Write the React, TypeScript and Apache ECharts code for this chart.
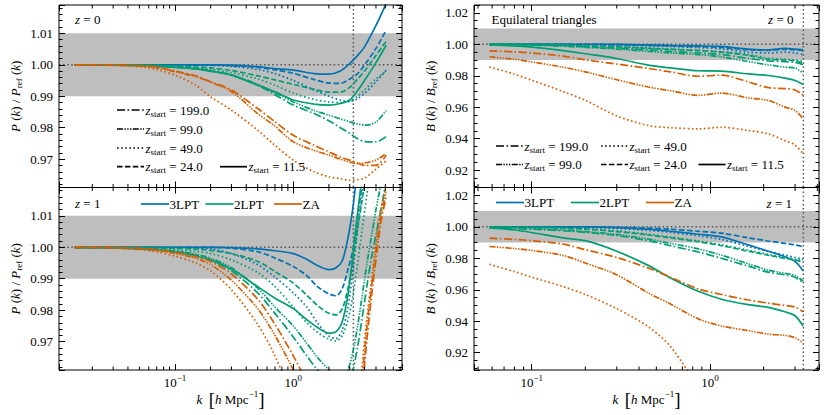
import React, { useEffect, useRef } from "react";
import * as echarts from "echarts";

const FONT = "'Liberation Serif', 'DejaVu Serif', serif";
const C3 = "#0173B2";
const C2 = "#029E73";
const CZ = "#D55E00";
const BAND_COLOR = "#BEBEBE";
const REF_COLOR = "#555555";

// ---------------- data ----------------
// wavenumbers (h/Mpc) at which the curves were read
const K_P_TOP = [0.0142, 0.02, 0.03, 0.05, 0.07, 0.1, 0.15, 0.2, 0.3, 0.5, 0.7, 1, 1.5, 2, 2.5, 3, 3.5, 4, 5, 6.1];
const K_P_BOT = [0.0142, 0.02, 0.03, 0.05, 0.07, 0.1, 0.15, 0.2, 0.3, 0.5, 0.7, 1, 1.3, 1.6, 2, 2.3, 2.6, 2.9, 3.2, 3.5, 3.8, 4.2, 4.6, 5.0, 5.5, 6.1];
const K_B = [0.058, 0.08, 0.1, 0.15, 0.2, 0.3, 0.45, 0.6, 0.86, 1.16, 1.64, 2.12, 2.63, 3.0, 3.33];

// P(k)/Pref(k), z = 0
const PT_3LPT_115 = [1, 1, 1, 1, 1, 1, 1, 1, 0.9999, 0.9994, 0.9988, 0.9983, 0.9972, 0.997, 0.998, 1.0004, 1.003, 1.0057, 1.0125, 1.0195];
const PT_3LPT_24 = [1, 1, 1, 1, 1, 1, 1, 1, 0.9997, 0.9992, 0.9984, 0.9973, 0.9953, 0.9942, 0.9941, 0.9955, 0.9972, 0.9999, 1.0052, 1.011];
const PT_3LPT_49 = [1, 1, 1, 1, 1, 1, 0.9999, 0.9998, 0.9995, 0.9985, 0.9972, 0.995, 0.992, 0.99, 0.9888, 0.9883, 0.9893, 0.9909, 0.9946, 0.9983];
const PT_2LPT_115 = [1, 0.9999, 0.9999, 0.9998, 0.9996, 0.9992, 0.9987, 0.998, 0.9967, 0.9935, 0.9914, 0.9888, 0.9875, 0.9872, 0.9877, 0.9888, 0.9918, 0.995, 1.0007, 1.0062];
const PT_2LPT_24 = [1, 1, 1, 0.9999, 0.9998, 0.9996, 0.9993, 0.999, 0.9982, 0.9965, 0.9952, 0.9938, 0.9922, 0.9913, 0.9913, 0.9928, 0.9955, 0.998, 1.003, 1.0075];
const PT_2LPT_49 = [1, 1, 1, 0.9999, 0.9998, 0.9995, 0.999, 0.9985, 0.9975, 0.9955, 0.9935, 0.991, 0.989, 0.9882, 0.988, 0.9885, 0.99, 0.992, 0.9955, 0.998];
const PT_2LPT_99 = [1, 1, 0.9999, 0.9998, 0.9997, 0.9993, 0.9987, 0.998, 0.9968, 0.9938, 0.9912, 0.9882, 0.9855, 0.984, 0.9828, 0.9819, 0.9812, 0.9808, 0.9818, 0.9855];
const PT_2LPT_199 = [1, 1, 0.9999, 0.9998, 0.9997, 0.9993, 0.9987, 0.998, 0.9967, 0.9935, 0.9905, 0.9872, 0.9845, 0.9822, 0.98, 0.9782, 0.9765, 0.9756, 0.9755, 0.9772];
const PT_ZA_49 = [1, 0.9999, 0.9998, 0.9994, 0.9985, 0.9967, 0.9935, 0.9898, 0.9856, 0.9792, 0.9744, 0.9697, 0.966, 0.9644, 0.9638, 0.9633, 0.9635, 0.964, 0.9668, 0.9695];
const PT_ZA_99 = [1, 1, 0.9999, 0.9996, 0.9991, 0.9978, 0.9962, 0.9945, 0.9915, 0.9845, 0.9805, 0.9755, 0.9728, 0.9713, 0.97, 0.9691, 0.9686, 0.9688, 0.9697, 0.9718];
const PT_ZA_199 = [1, 1, 0.9999, 0.9997, 0.9993, 0.998, 0.9965, 0.9946, 0.992, 0.9861, 0.9819, 0.9776, 0.9744, 0.9723, 0.9707, 0.9697, 0.9688, 0.968, 0.968, 0.9713];

// P(k)/Pref(k), z = 1
const PB_3LPT_115 = [1, 1, 1, 1, 1, 1, 1, 1, 0.9999, 0.9995, 0.9989, 0.998, 0.9962, 0.9942, 0.9929, 0.9935, 0.9958, 1.003, 1.013, 1.026, null, null, null, null, null, null];
const PB_3LPT_24 = [1, 1, 1, 1, 1, 1, 1, 1, 0.9997, 0.9986, 0.9966, 0.9939, 0.991, 0.9875, 0.9852, 0.9846, 0.987, 0.993, 0.9995, 1.01, 1.0195, 1.03, null, null, null, null];
const PB_3LPT_49 = [1, 1, 1, 1, 1, 1, 0.9998, 0.9995, 0.998, 0.9945, 0.9905, 0.9855, 0.981, 0.976, 0.9718, 0.971, 0.9738, 0.981, 0.993, 1.006, 1.016, 1.028, null, null, null, null];
const PB_2LPT_115 = [1, 0.9999, 0.9998, 0.9996, 0.9992, 0.9985, 0.9972, 0.996, 0.993, 0.9875, 0.9838, 0.9805, 0.977, 0.9745, 0.9727, 0.9732, 0.9765, 0.985, 0.998, 1.011, 1.022, null, null, null, null, null];
const PB_2LPT_24 = [1, 1, 1, 0.9999, 0.9998, 0.9997, 0.9994, 0.999, 0.998, 0.9955, 0.9923, 0.9886, 0.9848, 0.9815, 0.979, 0.9785, 0.9805, 0.987, 0.996, 1.006, 1.0145, 1.026, null, null, null, null];
const PB_2LPT_49 = [1, 1, 1, 0.9999, 0.9997, 0.9993, 0.9987, 0.998, 0.996, 0.992, 0.9875, 0.981, 0.976, 0.973, 0.9708, 0.9702, 0.972, 0.977, 0.985, 0.995, 1.005, 1.017, 1.028, null, null, null];
const PB_2LPT_99 = [1, 0.9999, 0.9998, 0.9995, 0.9993, 0.9988, 0.9978, 0.9965, 0.9935, 0.987, 0.981, 0.975, 0.9695, 0.965, 0.961, 0.9585, 0.958, 0.961, 0.967, 0.975, 0.984, 0.995, 1.004, 1.012, 1.02, null];
const PB_2LPT_199 = [1, 0.9999, 0.9998, 0.9994, 0.9991, 0.9987, 0.9975, 0.996, 0.9925, 0.9855, 0.979, 0.9715, 0.9655, 0.961, 0.9565, 0.954, 0.9535, 0.9555, 0.961, 0.9685, 0.977, 0.988, 0.997, 1.004, 1.012, 1.021];
const PB_ZA_49 = [1, 0.9999, 0.9997, 0.9993, 0.9985, 0.9972, 0.995, 0.9925, 0.9865, 0.9755, 0.9655, 0.951, 0.94, 0.93, 0.92, 0.915, 0.912, 0.913, 0.922, 0.94, 0.961, 0.978, 0.99, 1.002, 1.012, 1.02];
const PB_ZA_99 = [1, 1, 0.9999, 0.9996, 0.999, 0.998, 0.9965, 0.9945, 0.9895, 0.9805, 0.972, 0.961, 0.951, 0.943, 0.935, 0.93, 0.928, 0.929, 0.935, 0.944, 0.957, 0.975, 0.988, 0.999, 1.01, 1.018];
const PB_ZA_199 = [1, 1, 0.9999, 0.9997, 0.9992, 0.9984, 0.997, 0.9955, 0.9915, 0.9835, 0.9755, 0.9655, 0.957, 0.949, 0.94, 0.935, 0.932, 0.932, 0.936, 0.944, 0.954, 0.971, 0.985, 0.996, 1.008, 1.016];

// B(k)/Bref(k), equilateral, z = 0
const BT_3LPT_115 = [1, 1, 1, 1, 1, 1, 0.9996, 0.9993, 0.999, 0.9987, 0.997, 0.9965, 0.9975, 0.997, 0.9965];
const BT_3LPT_24 = [1, 1, 1, 1, 1, 0.9998, 0.9994, 0.999, 0.9985, 0.998, 0.9965, 0.9962, 0.9968, 0.9965, 0.996];
const BT_3LPT_49 = [1, 1, 1, 1, 0.9998, 0.9995, 0.999, 0.9986, 0.998, 0.9972, 0.995, 0.9945, 0.995, 0.9945, 0.9935];
const BT_2LPT_115 = [0.9996, 0.999, 0.9982, 0.996, 0.994, 0.991, 0.9868, 0.985, 0.9832, 0.983, 0.9812, 0.9802, 0.9785, 0.977, 0.9745];
const BT_2LPT_24 = [1, 1, 0.9998, 0.9995, 0.999, 0.9983, 0.9975, 0.9968, 0.996, 0.995, 0.993, 0.9905, 0.99, 0.9895, 0.988];
const BT_2LPT_49 = [1, 1, 0.9998, 0.9995, 0.9991, 0.9985, 0.9977, 0.997, 0.9962, 0.9953, 0.9935, 0.9912, 0.9905, 0.99, 0.9893];
const BT_2LPT_99 = [1, 0.9998, 0.9995, 0.9988, 0.998, 0.997, 0.9955, 0.9945, 0.9935, 0.992, 0.989, 0.987, 0.9855, 0.985, 0.9815];
const BT_2LPT_199 = [1, 0.9999, 0.9997, 0.9992, 0.9985, 0.9975, 0.9965, 0.9955, 0.9945, 0.9935, 0.991, 0.9895, 0.989, 0.9885, 0.987];
const BT_ZA_199 = [0.9959, 0.9952, 0.9945, 0.9925, 0.9901, 0.9875, 0.9847, 0.9825, 0.9797, 0.9804, 0.9761, 0.9725, 0.9719, 0.971, 0.9676];
const BT_ZA_99 = [0.9921, 0.9905, 0.9888, 0.9855, 0.9825, 0.9775, 0.9729, 0.9705, 0.9676, 0.969, 0.9659, 0.9644, 0.9601, 0.958, 0.9527];
const BT_ZA_49 = [0.9857, 0.981, 0.9772, 0.97, 0.9644, 0.9545, 0.9484, 0.947, 0.9463, 0.9473, 0.9452, 0.9431, 0.9388, 0.936, 0.9303];

// B(k)/Bref(k), equilateral, z = 1
const BB_3LPT_115 = [1, 1, 1, 1, 1, 0.9995, 0.9985, 0.9972, 0.9953, 0.9936, 0.9885, 0.9845, 0.981, 0.978, 0.972];
const BB_3LPT_24 = [1, 1, 1, 1, 1, 0.9997, 0.9992, 0.9985, 0.9972, 0.996, 0.993, 0.991, 0.9895, 0.9885, 0.9873];
const BB_3LPT_49 = [1, 1, 1, 0.9999, 0.9996, 0.999, 0.9978, 0.9965, 0.9943, 0.992, 0.9875, 0.9845, 0.982, 0.9805, 0.9795];
const BB_2LPT_115 = [0.9993, 0.998, 0.9964, 0.993, 0.9912, 0.9845, 0.9755, 0.9675, 0.959, 0.954, 0.9505, 0.9488, 0.946, 0.9435, 0.9369];
const BB_2LPT_24 = [1, 0.9999, 0.9997, 0.9992, 0.9985, 0.997, 0.9948, 0.993, 0.9905, 0.988, 0.9845, 0.982, 0.98, 0.979, 0.9775];
const BB_2LPT_49 = [1, 0.9999, 0.9997, 0.9993, 0.9987, 0.9974, 0.9953, 0.9936, 0.991, 0.9886, 0.9852, 0.9825, 0.9805, 0.9795, 0.9785];
const BB_2LPT_99 = [0.9996, 0.9992, 0.9988, 0.998, 0.997, 0.9952, 0.9922, 0.9895, 0.986, 0.982, 0.9765, 0.9725, 0.9705, 0.969, 0.9655];
const BB_2LPT_199 = [0.9995, 0.999, 0.9985, 0.9975, 0.9965, 0.9945, 0.9912, 0.988, 0.984, 0.98, 0.975, 0.9712, 0.9695, 0.968, 0.9645];
const BB_ZA_199 = [0.9928, 0.992, 0.9912, 0.989, 0.9855, 0.9805, 0.9738, 0.968, 0.9605, 0.957, 0.9535, 0.9515, 0.95, 0.949, 0.946];
const BB_ZA_99 = [0.9875, 0.9862, 0.985, 0.9818, 0.977, 0.9695, 0.958, 0.951, 0.9415, 0.937, 0.934, 0.9318, 0.931, 0.9295, 0.9263];
const BB_ZA_49 = [0.9762, 0.9715, 0.968, 0.962, 0.957, 0.948, 0.9365, 0.924, 0.898, null, null, null, null, null, null];

// reference band / lines
const BAND_LO = 0.99;
const BAND_HI = 1.01;
const REF_LEVEL = 1.0;
const K_LINE_P = 3.22;
const K_LINE_B = 3.34;

// axis ranges and ticks
const X_RANGE_P = [0.010457, 8.296];
const X_RANGE_B = [0.04747, 4.087];
const Y_RANGE_P = [0.961, 1.019];
const Y_RANGE_B = [0.909, 1.025];
const MINOR_K_P = [0.02, 0.03, 0.04, 0.05, 0.06, 0.07, 0.08, 0.09, 0.2, 0.3, 0.4, 0.5, 0.6, 0.7, 0.8, 0.9, 2, 3, 4, 5, 6, 7, 8];
const MINOR_K_B = [0.05, 0.06, 0.07, 0.08, 0.09, 0.2, 0.3, 0.4, 0.5, 0.6, 0.7, 0.8, 0.9, 2, 3, 4];

const METHODS = ["3LPT", "2LPT", "ZA"];

// ---------------- styles ----------------
const DASHES: Record<string, any> = {
  "199.0": [8, 2.5, 1.6, 2.5],
  "99.0": [6, 1.4, 1.4, 1.4, 1.4, 1.4, 1.4, 1.4],
  "49.0": [1.6, 2.5],
  "24.0": [5.5, 2.4],
  "11.5": "solid",
};
const LW = 1.7;

type Curve = [string, string, (number | null)[]];

const PANELS = [
  {
    layout: { left: 59, top: 5, width: 343, height: 182.5 },
    k: K_P_TOP, xr: X_RANGE_P, yr: Y_RANGE_P, step: 0.01, minorSplit: 5, bottom: false, kLine: K_LINE_P, minorK: MINOR_K_P,
    yName: "P",
    curves: [
      [C3, "49.0", PT_3LPT_49], [C3, "24.0", PT_3LPT_24], [C3, "11.5", PT_3LPT_115],
      [C2, "199.0", PT_2LPT_199], [C2, "99.0", PT_2LPT_99], [C2, "49.0", PT_2LPT_49], [C2, "24.0", PT_2LPT_24], [C2, "11.5", PT_2LPT_115],
      [CZ, "199.0", PT_ZA_199], [CZ, "99.0", PT_ZA_99], [CZ, "49.0", PT_ZA_49],
    ] as Curve[],
  },
  {
    layout: { left: 59, top: 187.5, width: 343, height: 182.5 },
    k: K_P_BOT, xr: X_RANGE_P, yr: Y_RANGE_P, step: 0.01, minorSplit: 5, bottom: true, kLine: K_LINE_P, minorK: MINOR_K_P,
    yName: "P",
    curves: [
      [C3, "49.0", PB_3LPT_49], [C3, "24.0", PB_3LPT_24], [C3, "11.5", PB_3LPT_115],
      [C2, "199.0", PB_2LPT_199], [C2, "99.0", PB_2LPT_99], [C2, "49.0", PB_2LPT_49], [C2, "24.0", PB_2LPT_24], [C2, "11.5", PB_2LPT_115],
      [CZ, "199.0", PB_ZA_199], [CZ, "99.0", PB_ZA_99], [CZ, "49.0", PB_ZA_49],
    ] as Curve[],
  },
  {
    layout: { left: 474, top: 5, width: 345, height: 182.5 },
    k: K_B, xr: X_RANGE_B, yr: Y_RANGE_B, step: 0.02, minorSplit: 4, bottom: false, kLine: K_LINE_B, minorK: MINOR_K_B,
    yName: "B",
    curves: [
      [C3, "49.0", BT_3LPT_49], [C3, "24.0", BT_3LPT_24], [C3, "11.5", BT_3LPT_115],
      [C2, "199.0", BT_2LPT_199], [C2, "99.0", BT_2LPT_99], [C2, "49.0", BT_2LPT_49], [C2, "24.0", BT_2LPT_24], [C2, "11.5", BT_2LPT_115],
      [CZ, "199.0", BT_ZA_199], [CZ, "99.0", BT_ZA_99], [CZ, "49.0", BT_ZA_49],
    ] as Curve[],
  },
  {
    layout: { left: 474, top: 187.5, width: 345, height: 182.5 },
    k: K_B, xr: X_RANGE_B, yr: Y_RANGE_B, step: 0.02, minorSplit: 4, bottom: true, kLine: K_LINE_B, minorK: MINOR_K_B,
    yName: "B",
    curves: [
      [C3, "49.0", BB_3LPT_49], [C3, "24.0", BB_3LPT_24], [C3, "11.5", BB_3LPT_115],
      [C2, "199.0", BB_2LPT_199], [C2, "99.0", BB_2LPT_99], [C2, "49.0", BB_2LPT_49], [C2, "24.0", BB_2LPT_24], [C2, "11.5", BB_2LPT_115],
      [CZ, "199.0", BB_ZA_199], [CZ, "99.0", BB_ZA_99], [CZ, "49.0", BB_ZA_49],
    ] as Curve[],
  },
];

const base = { fontFamily: FONT, fontSize: 13, color: "#000", fill: "#000" };
const RICH = {
  i: { ...base, fontStyle: "italic", verticalAlign: "middle" },
  r: { ...base, verticalAlign: "middle" },
  s: { ...base, fontSize: 9, verticalAlign: "middle", padding: [7, 0, 0, 0] },
  sup: { ...base, fontSize: 9, verticalAlign: "middle", padding: [0, 0, 10, 0] },
  br: { ...base, fontSize: 19, verticalAlign: "middle" },
  b: { ...base, verticalAlign: "middle" },
};

const xLabelFmt = (v: number) => {
  const l = Math.log10(v);
  const r = Math.round(l);
  if (Math.abs(l - r) > 1e-6) return "";
  return `{b|10}{sup|${r < 0 ? "\u2212" + -r : r}}`;
};
const yFmt = (step: number) => (v: number) => {
  const q = v / step;
  return Math.abs(q - Math.round(q)) < 1e-6 ? v.toFixed(2) : "";
};
const yNameText = (s: string) => `{i|${s}}{r| (}{i|k}{r|) / }{i|${s}}{s|ref}{r| (}{i|k}{r|)}`;
const X_NAME = "{i|k}{r|  }{br|[}{i|h}{r| Mpc}{sup|\u22121}{br|]}";

// legend / annotation layout
const LEG_STYLE = [
  { z: "199.0", x: 117, y: 110 },
  { z: "99.0", x: 117, y: 129 },
  { z: "49.0", x: 117, y: 148 },
  { z: "24.0", x: 117, y: 166.7 },
  { z: "11.5", x: 220, y: 166.7 },
  { z: "199.0", x: 496, y: 146 },
  { z: "99.0", x: 496, y: 164.5 },
  { z: "49.0", x: 601, y: 146 },
  { z: "24.0", x: 601, y: 164.5 },
  { z: "11.5", x: 698.5, y: 164.5 },
];
const LEG_COLOR = [
  { m: 0, color: C3, x: 141, y: 204 },
  { m: 1, color: C2, x: 205.5, y: 204 },
  { m: 2, color: CZ, x: 274, y: 204 },
  { m: 0, color: C3, x: 496, y: 202.5 },
  { m: 1, color: C2, x: 571, y: 202.5 },
  { m: 2, color: CZ, x: 646, y: 202.5 },
];
const ANNOT = [
  { text: "{i|z}{r| = 0}", x: 75, y: 19, align: "left" },
  { text: "{i|z}{r| = 1}", x: 75, y: 203.5, align: "left" },
  { text: "{r|Equilateral triangles}", x: 491.5, y: 19, align: "left" },
  { text: "{i|z}{r| = 0}", x: 793.5, y: 19, align: "right" },
  { text: "{i|z}{r| = 1}", x: 792, y: 203, align: "right" },
];

function buildOption() {
  const grid = PANELS.map((p) => ({
    ...p.layout,
    show: true,
    borderColor: "#000",
    borderWidth: 1,
    backgroundColor: "rgba(0,0,0,0)",
    z: 10,
    containLabel: false,
    outerBoundsMode: "none",
  }));
  const xAxis: any[] = [];
  const yAxis: any[] = [];
  const series: any[] = [];
  const tick = { show: true, inside: true, length: 6, lineStyle: { color: "#000", width: 1 } };
  PANELS.forEach((p, i) => {
    const xCommon = {
      type: "log", logBase: 10, gridIndex: i, min: p.xr[0], max: p.xr[1], z: 10,
      axisLine: { show: false, onZero: false }, splitLine: { show: false }, axisTick: tick,
    };
    xAxis.push({
      ...xCommon, position: "bottom",
      axisLabel: { show: p.bottom, formatter: xLabelFmt, margin: 3, color: "#000", fontFamily: FONT, fontSize: 13, rich: RICH },
      name: p.bottom ? X_NAME : "", nameLocation: "middle", nameGap: 19,
      nameTextStyle: { color: "#000", fontFamily: FONT, fontSize: 13, rich: RICH },
    });
    xAxis.push({ ...xCommon, position: "top", axisLabel: { show: false } });
    const yCommon = {
      type: "value", gridIndex: i, min: p.yr[0], max: p.yr[1], splitNumber: 5, z: 10,
      axisLine: { show: false, onZero: false }, splitLine: { show: false }, axisTick: tick,
      minorTick: { show: true, splitNumber: p.minorSplit, length: 3.5, lineStyle: { color: "#000", width: 1 } },
      minorSplitLine: { show: false },
    };
    yAxis.push({
      ...yCommon, position: "left",
      axisLabel: { formatter: yFmt(p.step), margin: 6, color: "#000", fontFamily: FONT, fontSize: 13 },
      name: yNameText(p.yName), nameLocation: "middle", nameRotate: 90, nameGap: 36,
      nameTextStyle: { color: "#000", fontFamily: FONT, fontSize: 13, rich: RICH },
    });
    yAxis.push({ ...yCommon, position: "right", axisLabel: { show: false } });

    // band + reference lines
    series.push({
      type: "custom", xAxisIndex: 2 * i, yAxisIndex: 2 * i, z: 1, silent: true, clip: false,
      data: [[p.kLine, BAND_LO, BAND_HI, REF_LEVEL]],
      encode: { x: 0, y: 1 },
      renderItem: (params: any, api: any) => {
        const cs = params.coordSys;
        const kx = api.value(0);
        const yLo = api.coord([kx, api.value(1)])[1];
        const yHi = api.coord([kx, api.value(2)])[1];
        const pr = api.coord([kx, api.value(3)]);
        const dot = { stroke: REF_COLOR, lineWidth: 1.5, lineDash: [1.5, 2.6], fill: null };
        return {
          type: "group",
          children: [
            { type: "rect", shape: { x: cs.x, y: yHi, width: cs.width, height: yLo - yHi }, style: { fill: BAND_COLOR } },
            { type: "line", shape: { x1: cs.x, y1: pr[1], x2: cs.x + cs.width, y2: pr[1] }, style: dot },
            { type: "line", shape: { x1: pr[0], y1: cs.y, x2: pr[0], y2: cs.y + cs.height }, style: dot },
          ],
        };
      },
    });

    p.curves.forEach(([color, zs, vals]) => {
      series.push({
        type: "line", xAxisIndex: 2 * i, yAxisIndex: 2 * i, z: 3, silent: true,
        symbol: "none", showSymbol: false, smooth: 0.3, clip: true,
        lineStyle: { color, width: LW, type: DASHES[zs], cap: "butt" },
        itemStyle: { color },
        emphasis: { disabled: true },
        data: p.k.map((k, j) => (vals[j] == null ? null : [k, vals[j]])).filter((d) => d !== null),
      });
    });

    // minor log ticks (bottom & top)
    series.push({
      type: "custom", xAxisIndex: 2 * i, yAxisIndex: 2 * i, z: 20, silent: true, clip: false,
      data: p.minorK.map((k) => [k, REF_LEVEL]),
      encode: { x: 0, y: 1 },
      renderItem: (params: any, api: any) => {
        const cs = params.coordSys;
        const x = api.coord([api.value(0), api.value(1)])[0];
        const st = { stroke: "#000", lineWidth: 1 };
        return {
          type: "group",
          children: [
            { type: "line", shape: { x1: x, y1: cs.y + cs.height, x2: x, y2: cs.y + cs.height - 3.5 }, style: st },
            { type: "line", shape: { x1: x, y1: cs.y, x2: x, y2: cs.y + 3.5 }, style: st },
          ],
        };
      },
    });
  });

  const graphic: any[] = [];
  LEG_STYLE.forEach((l) => {
    graphic.push({
      type: "line", silent: true, z: 30,
      shape: { x1: l.x, y1: l.y, x2: l.x + 27, y2: l.y },
      style: { stroke: "#000", lineWidth: LW, lineDash: DASHES[l.z] === "solid" ? null : DASHES[l.z] },
    });
    graphic.push({
      type: "text", silent: true, z: 30, x: l.x + 28.5, y: l.y,
      style: { text: `{i|z}{s|start}{r| = ${l.z}}`, rich: RICH, fontFamily: FONT, fontSize: 13, fill: "#000", verticalAlign: "middle", align: "left" },
    });
  });
  LEG_COLOR.forEach((l) => {
    graphic.push({
      type: "line", silent: true, z: 30,
      shape: { x1: l.x, y1: l.y, x2: l.x + 28, y2: l.y },
      style: { stroke: l.color, lineWidth: LW },
    });
    graphic.push({
      type: "text", silent: true, z: 30, x: l.x + 28.5, y: l.y,
      style: { text: `{r|${METHODS[l.m]}}`, rich: RICH, fontFamily: FONT, fontSize: 13, fill: "#000", verticalAlign: "middle", align: "left" },
    });
  });
  ANNOT.forEach((a) => {
    graphic.push({
      type: "text", silent: true, z: 30, x: a.x, y: a.y,
      style: { text: a.text, rich: RICH, fontFamily: FONT, fontSize: 13, fill: "#000", verticalAlign: "middle", align: a.align },
    });
  });

  return {
    animation: false,
    backgroundColor: "#fff",
    textStyle: { fontFamily: FONT },
    grid, xAxis, yAxis, series, graphic,
  };
}

export default function App() {
  const ref = useRef<HTMLDivElement>(null);
  useEffect(() => {
    const chart = echarts.init(ref.current!, null, { renderer: "svg" });
    chart.setOption(buildOption() as any);
    return () => chart.dispose();
  }, []);
  return <div ref={ref} style={{ position: "absolute", left: 0, top: 0, width: 830, height: 415 }} />;
}
